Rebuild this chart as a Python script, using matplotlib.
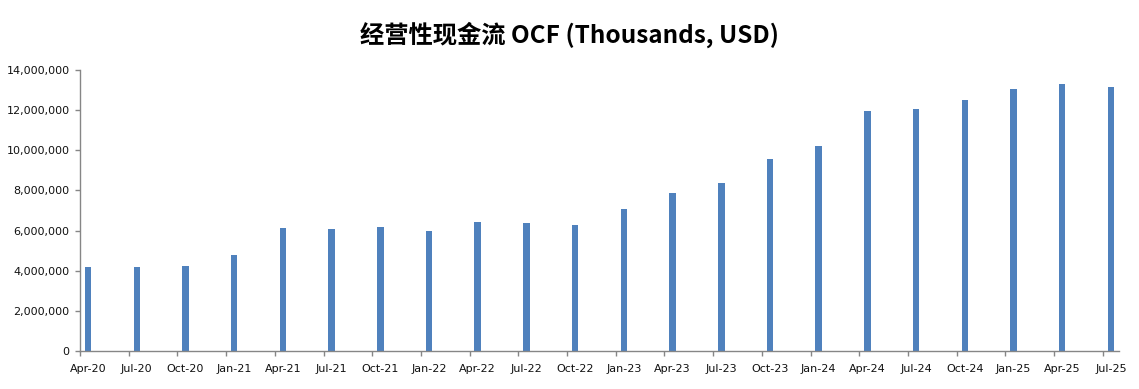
import matplotlib
matplotlib.use("Agg")
import matplotlib.pyplot as plt
from matplotlib.ticker import FuncFormatter

# quarterly operating cash flow, thousands of USD
quarters = ["Apr-20", "Jul-20", "Oct-20", "Jan-21", "Apr-21", "Jul-21", "Oct-21", "Jan-22",
            "Apr-22", "Jul-22", "Oct-22", "Jan-23", "Apr-23", "Jul-23", "Oct-23", "Jan-24",
            "Apr-24", "Jul-24", "Oct-24", "Jan-25", "Apr-25", "Jul-25"]
ocf = [4190000, 4190000, 4240000, 4790000, 6130000, 6080000, 6180000, 5980000,
       6430000, 6380000, 6280000, 7080000, 7880000, 8380000, 9580000, 10220000,
       11970000, 12070000, 12520000, 13070000, 13320000, 13170000]

# date axis in months, one bar per quarter centred in its month slot
months = [3 * i for i in range(len(quarters))]
n_months = months[-1] + 1

plt.rcParams["font.family"] = "DejaVu Sans"

fig = plt.figure(figsize=(11.39, 3.89), dpi=100)
ax = fig.add_axes([80 / 1139, 38 / 389, 1039 / 1139, 281 / 389])

ax.bar([m + 0.5 for m in months], ocf, width=0.4, color="#4F81BD")

ax.set_xlim(0, n_months)
ax.set_ylim(0, 14000000)
ax.set_yticks(range(0, 14000001, 2000000))
ax.yaxis.set_major_formatter(FuncFormatter(lambda v, p: f"{int(v):,}"))

ax.set_xticks(months)
ax.set_xticklabels([])
ax.set_xticks([m + 0.5 for m in months], minor=True)
ax.set_xticklabels(quarters, minor=True)

axis_col = "#868686"
for side in ["top", "right"]:
    ax.spines[side].set_visible(False)
for side in ["left", "bottom"]:
    ax.spines[side].set_color(axis_col)
    ax.spines[side].set_linewidth(1.0)

ax.tick_params(axis="y", which="major", direction="out", length=3.5, width=1,
               color=axis_col, labelsize=8, pad=4, labelcolor="#111111")
ax.tick_params(axis="x", which="major", direction="out", length=3.5, width=1,
               color=axis_col)
ax.tick_params(axis="x", which="minor", length=0, labelsize=8, pad=9,
               labelcolor="#111111")

fig.text(0.5, 0.91, "经营性现金流 OCF (Thousands, USD)", ha="center", va="center",
         fontsize=17.5, fontweight="bold", family=["Noto Sans CJK SC", "DejaVu Sans"])

fig.savefig("out.png", dpi=100)
